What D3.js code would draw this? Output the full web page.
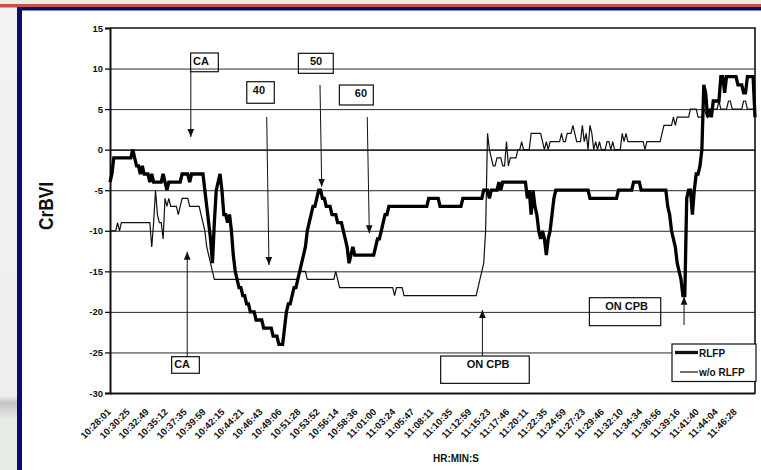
<!DOCTYPE html>
<html>
<head>
<meta charset="utf-8">
<script src="https://cdn.jsdelivr.net/npm/d3@7"></script>
<style>
  html, body { margin: 0; padding: 0; background: #ffffff; }
  svg { display: block; font-family: "Liberation Sans", Arial, Helvetica, sans-serif; }
</style>
</head>
<body>
<svg id="chart" width="761" height="470"></svg>
<script>
// Category labels on the time axis: one label every 10 samples
const timeLabels = [
  "10:28:01","10:30:25","10:32:49","10:35:12","10:37:35","10:39:59","10:42:15","10:44:21",
  "10:46:43","10:49:06","10:51:28","10:53:52","10:56:14","10:58:36","11:01:00","11:03:24",
  "11:05:47","11:08:11","11:10:35","11:12:59","11:15:23","11:17:46","11:20:11","11:22:35",
  "11:24:59","11:27:23","11:29:46","11:32:10","11:34:34","11:36:56","11:39:16","11:41:40",
  "11:44:04","11:46:28"
];
const samplesPerLabel = 10;
const lastSample = 340;

// CrBVI axis ticks
const yTicks = [-30, -25, -20, -15, -10, -5, 0, 5, 10, 15];
const gridValues = [-25, -20, -15, -10, -5, 0, 5, 10];

const seriesNames = ["RLFP", "w/o RLFP"];

// RLFP series: [sample, CrBVI]
const rlfp = [
  [0,-4],[1,-3],[2,-1],[11,-1],[12,0],[13,-1],[14,-2],[15,-2],[16,-3],[17,-2],[18,-3],[20,-3],
  [21,-4],[22,-3],[23,-4],[27,-4],[28,-3],[29,-4],[30,-5],[31,-4],[37,-4],[38,-3],[41,-3],[42,-4],
  [43,-3],[49,-3],[50,-5],[51,-7],[52,-9],[53,-11],[54,-14],[55,-9],[56,-5],[57,-4],[58,-3],
  [59,-5],[60,-8],[61,-8],[62,-9],[63,-8],[64,-10],[65,-13],[66,-15],[67,-16],[68,-17],[69,-17],
  [70,-18],[71,-18],[72,-19],[73,-19],[74,-20],[76,-20],[77,-21],[80,-21],[81,-22],[85,-22],
  [86,-23],[88,-23],[89,-24],[91,-24],[92,-22],[93,-20],[94,-19],[95,-19],[96,-18],[97,-17],
  [98,-17],[99,-16],[100,-15],[101,-14],[102,-13],[103,-12],[104,-10],[105,-9],[106,-8],[107,-7],
  [108,-7],[109,-6],[110,-5],[111,-5],[112,-6],[113,-6],[114,-7],[116,-7],[117,-8],[119,-8],
  [120,-9],[122,-9],[123,-10],[124,-11],[125,-12],[126,-14],[127,-13],[128,-12],[129,-13],
  [139,-13],[140,-12],[141,-11],[142,-11],[143,-10],[144,-9],[145,-8],[146,-8],[147,-7],
  [167,-7],[168,-6],[173,-6],[174,-7],[185,-7],[186,-6],[196,-6],[197,-5],[199,-5],[200,-6],
  [201,-5],[204,-5],[205,-4],[206,-5],[207,-4],[219,-4],[220,-6],[221,-5],[222,-8],[223,-5],
  [224,-7],[225,-8],[226,-10],[227,-11],[228,-10],[229,-11],[230,-13],[231,-11],[232,-10],
  [233,-8],[234,-6],[235,-5],[252,-5],[253,-6],[267,-6],[268,-5],[275,-5],[276,-4],[279,-4],
  [280,-5],[293,-5],[294,-7],[295,-8],[296,-10],[297,-11],[298,-12],[299,-14],[300,-15],
  [301,-16],[302,-18],[303,-18],[304,-6],[305,-5],[306,-5],[307,-8],[308,-5],[309,-3],[310,-3],
  [311,-2],[312,0],[313,8],[314,7],[315,4],[316,5],[317,4],[318,6],[321,6],[322,9],[323,9],
  [324,7],[325,9],[330,9],[331,8],[333,8],[334,7],[335,7],[336,9],[339,9],[340,4]
];

// Series without RLFP: [sample, CrBVI]
const withoutRlfp = [
  [0,-10],[3,-10],[4,-9],[5,-10],[6,-9],[21,-9],[22,-12],[23,-9],[24,-5],[25,-8],[26,-9],[27,-9],
  [28,-11],[29,-6],[30,-7],[31,-6],[32,-7],[35,-7],[36,-8],[37,-7],[38,-6],[41,-6],[42,-7],
  [47,-7],[48,-8],[49,-9],[50,-10],[51,-12],[52,-13],[53,-14],[54,-15],[55,-16],[99,-16],
  [100,-15],[103,-15],[104,-16],[118,-16],[119,-15],[120,-16],[121,-17],[149,-17],[150,-18],
  [151,-17],[154,-17],[155,-18],[193,-18],[194,-17],[195,-16],[196,-15],[197,-14],[198,-10],
  [199,2],[200,0],[201,-1],[202,-2],[203,-2],[204,-1],[206,-1],[207,-2],[208,-2],[209,1],
  [210,-2],[211,-1],[214,-1],[215,0],[216,0],[217,1],[218,0],[221,0],[222,2],[227,2],[228,1],
  [229,0],[230,1],[231,0],[232,1],[237,1],[238,2],[239,1],[240,1],[241,2],[243,2],[244,3],
  [245,2],[246,1],[248,1],[249,3],[250,1],[251,2],[252,0],[253,3],[254,2],[255,0],[256,1],
  [257,0],[258,1],[259,0],[261,0],[262,1],[263,1],[264,0],[265,1],[266,0],[269,0],[270,2],
  [271,1],[272,2],[273,1],[281,1],[282,0],[283,1],[290,1],[291,2],[292,3],[296,3],[297,4],
  [298,3],[299,4],[305,4],[306,5],[309,5],[310,4],[312,4],[313,5],[315,4],[316,5],[320,5],
  [321,6],[322,5],[325,5],[326,6],[327,6],[328,5],[333,5],[334,6],[335,6],[336,5],[340,5]
];

// Event call-outs, placed in sample / CrBVI units
const annotations = [
  { text: "CA",     box: [42.5, 57.1, 11.92, 9.61],    label: [43.8, 10.44],  anchor: "start",  arrow: [42.6, 9.61, 42.6, 1.56] },
  { text: "40",     box: [72.1, 86.6, 8.38, 5.72],     label: [78.5, 6.86],   anchor: "middle", arrow: [82.6, 4.03, 83.8, -14.22] },
  { text: "50",     box: [99.3, 117.7, 11.88, 9.41],   label: [108.6, 10.44], anchor: "middle", arrow: [110.7, 7.97, 111.6, -4.57] },
  { text: "60",     box: [120.9, 138.8, 7.97, 5.51],   label: [132.3, 6.53],  anchor: "middle", arrow: [135.6, 4.03, 136.7, -10.31] },
  { text: "CA",     box: [32.5, 47.1, -25.52, -27.57], label: [38.0, -26.92], anchor: "middle", arrow: [40.7, -25.52, 40.7, -12.58] },
  { text: "ON CPB", box: [174.3, 221.0, -25.44, -28.81], label: [199.3, -26.92], anchor: "middle", arrow: [196.3, -25.44, 196.3, -19.77] },
  { text: "ON CPB", box: [252.7, 290.3, -18.25, -21.70], label: [272.3, -19.77], anchor: "middle", arrow: [302.6, -21.62, 302.6, -18.13] }
];

const svg = d3.select("#chart");
const W = 761, H = 470;
const plot = { left: 110, right: 755, top: 28, bottom: 393 };

// ---- slide frame ----
svg.append("rect").attr("x", 0).attr("y", 0).attr("width", W).attr("height", H).attr("fill", "#ffffff");
const grad = svg.append("defs").append("linearGradient").attr("id", "sideFade")
  .attr("x1", 0).attr("y1", 0).attr("x2", 0).attr("y2", 1);
grad.append("stop").attr("offset", "0%").attr("stop-color", "#f2f2f2");
grad.append("stop").attr("offset", "84%").attr("stop-color", "#eeeeee");
grad.append("stop").attr("offset", "85.5%").attr("stop-color", "#c4c4c4");
grad.append("stop").attr("offset", "87.5%").attr("stop-color", "#d8dcd8");
grad.append("stop").attr("offset", "89%").attr("stop-color", "#e6ece6");
grad.append("stop").attr("offset", "100%").attr("stop-color", "#e6ece6");
svg.append("rect").attr("x", 0).attr("y", 7).attr("width", 17).attr("height", H - 7).attr("fill", "url(#sideFade)");
svg.append("rect").attr("x", 0).attr("y", 0).attr("width", W).attr("height", 4).attr("fill", "#eaede0");
svg.append("rect").attr("x", 0).attr("y", 4).attr("width", W).attr("height", 3.5).attr("fill", "#c3514f");
svg.append("rect").attr("x", 17).attr("y", 7).attr("width", W - 17).attr("height", 3.5).attr("fill", "#0c0c6e");
svg.append("rect").attr("x", 17).attr("y", 7).attr("width", 5).attr("height", H - 7).attr("fill", "#0c0c6e");

// ---- scales ----
const x = d3.scaleLinear().domain([0, lastSample]).range([plot.left, plot.right]);
const y = d3.scaleLinear().domain([-30, 15]).range([plot.bottom, plot.top]);

const defs = svg.select("defs");
defs.append("marker").attr("id", "head")
  .attr("viewBox", "0 0 10 10").attr("refX", 10).attr("refY", 5)
  .attr("markerUnits", "userSpaceOnUse").attr("markerWidth", 8).attr("markerHeight", 8)
  .attr("orient", "auto")
  .append("path").attr("d", "M0,0.8 L10,5 L0,9.2 Z").attr("fill", "#111");

// ---- gridlines ----
svg.append("g")
  .attr("transform", `translate(${plot.left},0)`)
  .call(d3.axisLeft(y).tickValues(gridValues).tickSize(-(plot.right - plot.left)).tickFormat(""))
  .call(g => g.select(".domain").remove())
  .call(g => g.selectAll("line").attr("stroke", "#2a2a2a").attr("stroke-width", d => d === 0 ? 1.6 : 1));

// plot frame (top and right edges)
svg.append("path")
  .attr("d", `M${plot.left},${plot.top} H${plot.right} V${plot.bottom}`)
  .attr("fill", "none").attr("stroke", "#111").attr("stroke-width", 1.6);

// ---- y axis ----
svg.append("g")
  .attr("transform", `translate(${plot.left},0)`)
  .call(d3.axisLeft(y).tickValues(yTicks).tickSize(5).tickPadding(2).tickFormat(d => String(d)))
  .call(g => g.select(".domain").attr("stroke", "#111").attr("stroke-width", 2))
  .call(g => g.selectAll("line").attr("stroke", "#111").attr("stroke-width", 1.3))
  .call(g => g.selectAll("text").attr("fill", "#111").attr("font-size", 9.5).attr("font-weight", "bold"));

// ---- x axis with rotated time labels ----
svg.append("g")
  .attr("transform", `translate(0,${plot.bottom})`)
  .call(d3.axisBottom(x)
    .tickValues(d3.range(0, timeLabels.length * samplesPerLabel, samplesPerLabel))
    .tickSize(0)
    .tickFormat(d => timeLabels[d / samplesPerLabel]))
  .call(g => g.select(".domain").attr("stroke", "#111").attr("stroke-width", 2))
  .call(g => g.selectAll("text")
    .attr("fill", "#111").attr("font-size", 9.5).attr("font-weight", "bold")
    .attr("text-anchor", "end").attr("x", 0).attr("y", 0).attr("dy", 0)
    .attr("transform", "translate(1,19.5) rotate(-45)"));

// ---- axis titles ----
svg.append("text")
  .attr("transform", "translate(53,206) rotate(-90)")
  .attr("text-anchor", "middle")
  .attr("font-size", 21).attr("font-weight", "bold").attr("fill", "#111")
  .attr("textLength", 48).attr("lengthAdjust", "spacingAndGlyphs")
  .text("CrBVI");
svg.append("text")
  .attr("x", 456).attr("y", 462).attr("text-anchor", "middle")
  .attr("font-size", 10).attr("font-weight", "bold").attr("fill", "#111")
  .text("HR:MIN:S");

// ---- series ----
const line = d3.line().x(d => x(d[0])).y(d => y(d[1]));
svg.append("path").datum(withoutRlfp)
  .attr("d", line).attr("fill", "none").attr("stroke", "#111").attr("stroke-width", 1.2)
  .attr("stroke-linejoin", "miter");
svg.append("path").datum(rlfp)
  .attr("d", line).attr("fill", "none").attr("stroke", "#000").attr("stroke-width", 3.3)
  .attr("stroke-linejoin", "miter").attr("stroke-miterlimit", 2);

// ---- annotations ----
const ann = svg.append("g").attr("class", "annotations");
annotations.forEach(a => {
  const [s0, s1, vTop, vBot] = a.box;
  ann.append("rect")
    .attr("x", x(s0)).attr("y", y(vTop))
    .attr("width", x(s1) - x(s0)).attr("height", y(vBot) - y(vTop))
    .attr("fill", "none").attr("stroke", "#111").attr("stroke-width", 1.2);
  ann.append("text")
    .attr("x", x(a.label[0])).attr("y", y(a.label[1]))
    .attr("text-anchor", a.anchor)
    .attr("font-size", 11).attr("font-weight", "bold").attr("fill", "#111")
    .text(a.text);
  const [as0, av0, as1, av1] = a.arrow;
  ann.append("line")
    .attr("x1", x(as0)).attr("y1", y(av0)).attr("x2", x(as1)).attr("y2", y(av1))
    .attr("stroke", "#111").attr("stroke-width", 1).attr("marker-end", "url(#head)");
});

// ---- legend ----
const lg = svg.append("g").attr("transform", "translate(672,344)");
lg.append("rect").attr("width", 84).attr("height", 37.5)
  .attr("fill", "#fff").attr("stroke", "#111").attr("stroke-width", 1.2);
const legendItems = [
  { name: seriesNames[0], width: 3.3, x0: 3 },
  { name: seriesNames[1], width: 1.2, x0: 8 }
];
legendItems.forEach((it, i) => {
  const ly = 8.5 + i * 19.5;
  lg.append("line").attr("x1", it.x0).attr("x2", 26).attr("y1", ly).attr("y2", ly)
    .attr("stroke", "#111").attr("stroke-width", it.width);
  lg.append("text").attr("x", 27).attr("y", ly + 4)
    .attr("font-size", 10).attr("font-weight", "bold").attr("fill", "#111")
    .text(it.name);
});
</script>
</body>
</html>
